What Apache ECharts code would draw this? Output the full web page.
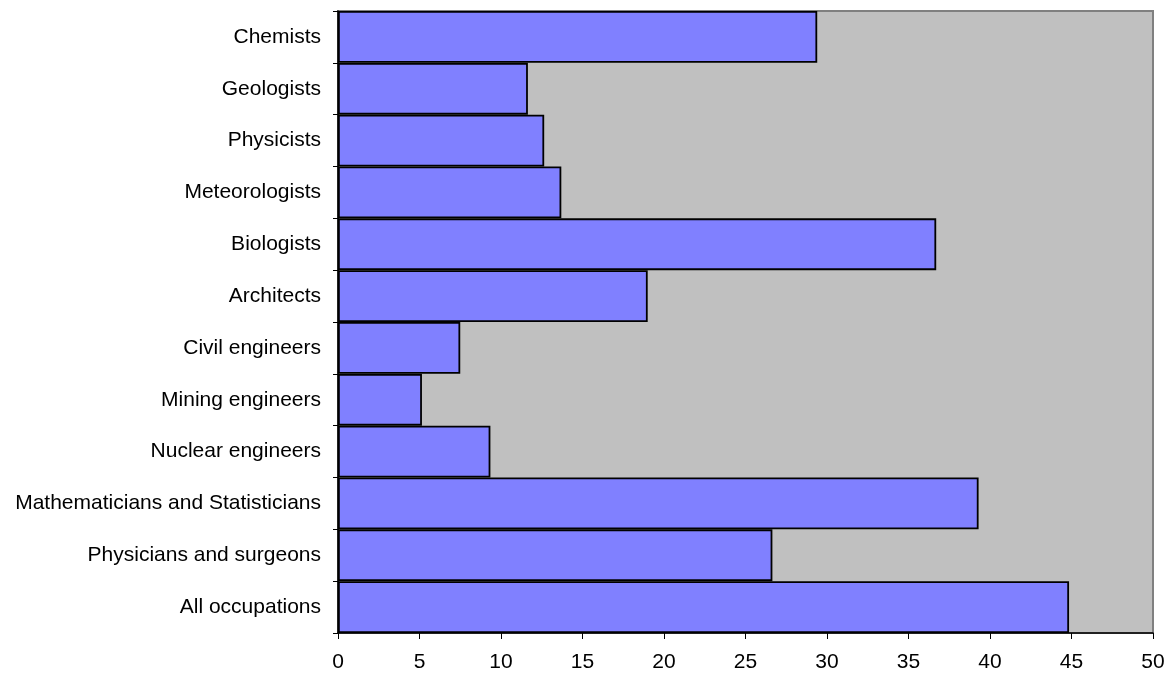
<!DOCTYPE html>
<html>
<head>
<meta charset="utf-8">
<script src="https://cdn.jsdelivr.net/npm/echarts@6/dist/echarts.min.js"></script>
<style>
  html, body { margin: 0; padding: 0; background: #ffffff; }
  #chart { width: 1173px; height: 677px; }
</style>
</head>
<body>
<div id="chart"></div>
<script>
// Occupations, listed top to bottom
const occupations = [
  'Chemists',
  'Geologists',
  'Physicists',
  'Meteorologists',
  'Biologists',
  'Architects',
  'Civil engineers',
  'Mining engineers',
  'Nuclear engineers',
  'Mathematicians and Statisticians',
  'Physicians and surgeons',
  'All occupations'
];

// Percentage value for each occupation
const values = [29.4, 11.65, 12.65, 13.7, 36.7, 19.0, 7.5, 5.15, 9.35, 39.3, 26.65, 44.85];

// Value axis range
const axisMin = 0;
const axisMax = 50;
const axisStep = 5;

const fontFamily = '"Liberation Sans", Arial, sans-serif';

const chart = echarts.init(document.getElementById('chart'), null, { renderer: 'canvas' });

chart.setOption({
  animation: false,
  backgroundColor: '#ffffff',
  grid: {
    left: 338,
    right: 20,
    top: 11,
    bottom: 44,
    show: true,
    backgroundColor: '#c0c0c0',
    borderColor: '#808080',
    borderWidth: 2
  },
  xAxis: {
    type: 'value',
    min: axisMin,
    max: axisMax,
    interval: axisStep,
    axisLine: { show: true, lineStyle: { color: '#000000', width: 1.5 } },
    axisTick: { show: true, length: 6, lineStyle: { color: '#000000', width: 1 } },
    splitLine: { show: false },
    axisLabel: {
      color: '#000000',
      fontFamily: fontFamily,
      fontSize: 21,
      margin: 19
    }
  },
  yAxis: {
    type: 'category',
    data: occupations,
    inverse: true,
    axisLine: { show: true, lineStyle: { color: '#000000', width: 1.5 } },
    axisTick: { show: true, length: 5, lineStyle: { color: '#000000', width: 1 } },
    splitLine: { show: false },
    axisLabel: {
      color: '#000000',
      fontFamily: fontFamily,
      fontSize: 21,
      margin: 17,
      padding: [3, 0, 0, 0]
    }
  },
  series: [{
    type: 'bar',
    data: values,
    barCategoryGap: '0%',
    itemStyle: {
      color: '#8080ff',
      borderColor: '#000000',
      borderWidth: 1.8
    }
  }]
});
</script>
</body>
</html>
